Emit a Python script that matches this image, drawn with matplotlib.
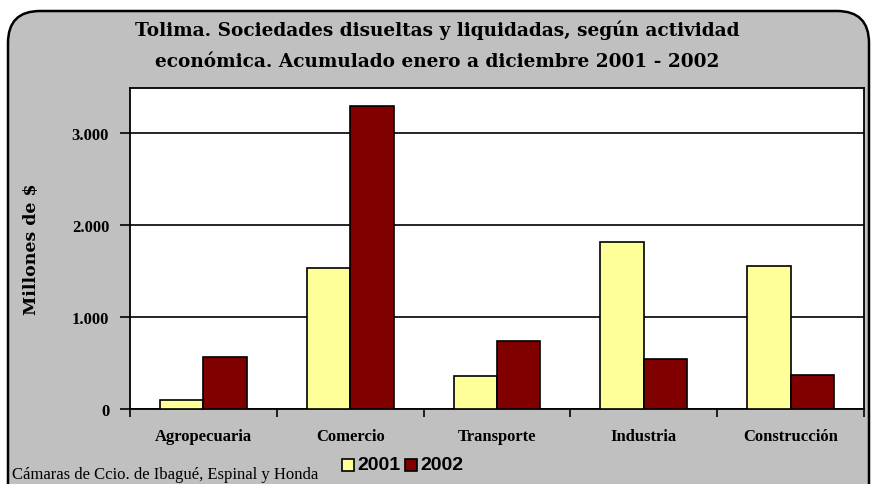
import matplotlib
matplotlib.use("Agg")
import matplotlib.pyplot as plt
import numpy as np
from matplotlib.patches import FancyBboxPatch, Rectangle

categorias = ["Agropecuaria", "Comercio", "Transporte", "Industria", "Construcción"]
valores_2001 = [101, 1533, 359, 1815, 1558]
valores_2002 = [565, 3290, 739, 543, 373]
yticks = [0, 1000, 2000, 3000]
ytick_labels = ["0", "1.000", "2.000", "3.000"]

titulo = ("Tolima. Sociedades disueltas y liquidadas, según actividad\n"
          "económica. Acumulado enero a diciembre 2001 - 2002")
fuente = "Cámaras de Ccio. de Ibagué, Espinal y Honda"

amarillo = "#FFFF99"
granate = "#800000"
gris = "#C0C0C0"

W, H = 874, 485
fig = plt.figure(figsize=(W / 100, H / 100), dpi=100)
fig.patch.set_facecolor("white")

# fondo con marco redondeado, en pixeles
bg = fig.add_axes([0, 0, 1, 1])
bg.set_xlim(0, W)
bg.set_ylim(H, 0)
bg.axis("off")
marco = FancyBboxPatch((8, 12), 861, 520, boxstyle="round,pad=0,rounding_size=32",
                       facecolor=gris, edgecolor="black", linewidth=1.8)
bg.add_patch(marco)

bg.text(W / 2, 46, titulo, ha="center", va="center", fontsize=13.3,
        fontweight="bold", family="DejaVu Serif", linespacing=1.95)
bg.text(12, 475, fuente, ha="left", va="center", fontsize=12,
        family="Liberation Serif")

# leyenda manual
bg.add_patch(Rectangle((342, 460), 12, 12, facecolor=amarillo, edgecolor="black", lw=1.2))
bg.text(357, 466, "2001", ha="left", va="center", fontsize=14, fontweight="bold",
        family="Liberation Sans")
bg.add_patch(Rectangle((405, 460), 12, 12, facecolor=granate, edgecolor="black", lw=1.2))
bg.text(420, 466, "2002", ha="left", va="center", fontsize=14, fontweight="bold",
        family="Liberation Sans")

ax = fig.add_axes([130 / W, 1 - 410 / H, (864 - 130) / W, (410 - 89) / H])
x = np.arange(len(categorias))
ancho = 0.295
ax.bar(x - ancho / 2, valores_2001, ancho, color=amarillo, edgecolor="black",
       linewidth=1.2, zorder=3)
ax.bar(x + ancho / 2, valores_2002, ancho, color=granate, edgecolor="black",
       linewidth=1.2, zorder=3)

ax.set_xlim(-0.5, len(categorias) - 0.5)
ax.set_ylim(0, 3490)
ax.set_yticks(yticks)
ax.set_yticklabels(ytick_labels, fontsize=12, fontweight="bold", family="Liberation Serif")
ax.yaxis.grid(True, color="black", linewidth=1.2, zorder=1)
ax.set_xticks(np.arange(len(categorias) + 1) - 0.5)
ax.set_xticklabels([])
ax.set_xticks(x, minor=True)
ax.set_xticklabels(categorias, minor=True, fontsize=12, fontweight="bold",
                   family="Liberation Serif")
ax.tick_params(axis="x", which="minor", length=0, pad=14)
ax.tick_params(axis="x", which="major", length=6, width=1.2, direction="out")
ax.tick_params(axis="y", length=7, width=1.2, direction="out", pad=8)
for s in ax.spines.values():
    s.set_linewidth(1.3)
ax.set_ylabel("Millones de $", fontsize=12.5, fontweight="bold", family="DejaVu Serif")
ax.yaxis.set_label_coords((40 - 130) / 734, 0.5)
ax.set_facecolor("white")

fig.savefig("out.png", dpi=100)
